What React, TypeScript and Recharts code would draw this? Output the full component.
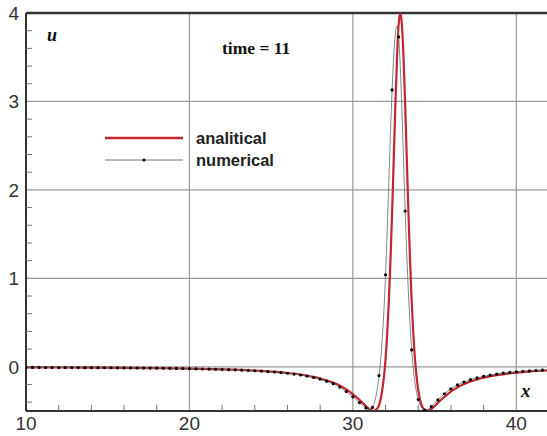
import React from 'react';
import { ComposedChart, Line, XAxis, YAxis, CartesianGrid, ReferenceLine } from 'recharts';

// ---- tick labels ----
const xMajorTicks = [10, 20, 30, 40];
const xMinorTicks = [12, 14, 16, 18, 22, 24, 26, 28, 32, 34, 36, 38, 42];
const yMajorTicks = [0, 1, 2, 3, 4];
const yMinorTicks = [-0.4, -0.2, 0.2, 0.4, 0.6, 0.8, 1.2, 1.4, 1.6, 1.8, 2.2, 2.4, 2.6, 2.8, 3.2, 3.4, 3.6, 3.8];
const yBottom = -0.5;
const xMinorTickLength = 0.07;

// ---- analytical series ----
const analyticalX = [
  10, 12, 14, 16, 18, 20, 22, 24, 25, 26, 27, 28, 29, 29.5, 30, 30.5,
  31.0, 31.25, 31.5, 31.75, 31.9, 32.0, 32.1, 32.2, 32.3, 32.4, 32.5, 32.6, 32.7, 32.8,
  32.9, 33.0, 33.1, 33.2, 33.3, 33.4, 33.5, 33.6, 33.7, 33.8, 33.9, 34.05, 34.3, 34.55,
  34.8, 35.3, 35.8, 36.3, 36.8, 37.8, 38.8, 39.8, 40.8, 42,
];
const analyticalU = [
  -0.007, -0.008, -0.010, -0.012, -0.016, -0.021, -0.029, -0.043, -0.054, -0.070, -0.094, -0.132, -0.196, -0.244, -0.308, -0.390,
  -0.477, -0.500, -0.471, -0.319, -0.116, 0.090, 0.371, 0.736, 1.197, 1.742, 2.348, 2.958, 3.495, 3.867,
  4.0, 3.867, 3.495, 2.958, 2.348, 1.742, 1.197, 0.736, 0.371, 0.090, -0.116, -0.319, -0.471, -0.500,
  -0.477, -0.390, -0.308, -0.244, -0.196, -0.132, -0.094, -0.070, -0.054, -0.041,
];

// ---- numerical series ----
const numericalX = [
  10.0, 10.4, 10.8, 11.2, 11.6, 12.0, 12.4, 12.8, 13.2, 13.6, 14.0, 14.4, 14.8, 15.2, 15.6, 16.0,
  16.4, 16.8, 17.2, 17.6, 18.0, 18.4, 18.8, 19.2, 19.6, 20.0, 20.4, 20.8, 21.2, 21.6, 22.0, 22.4,
  22.8, 23.2, 23.6, 24.0, 24.4, 24.8, 25.2, 25.6, 26.0, 26.4, 26.8, 27.2, 27.6, 28.0, 28.4, 28.8,
  29.2, 29.6, 30.0, 30.4, 30.8, 31.2, 31.6, 32.0, 32.4, 32.8, 33.2, 33.6, 34.0, 34.4, 34.8, 35.2,
  35.6, 36.0, 36.4, 36.8, 37.2, 37.6, 38.0, 38.4, 38.8, 39.2, 39.6, 40.0, 40.4, 40.8, 41.2, 41.6, 42.0,
];
const numericalU = [
  -0.007, -0.007, -0.007, -0.008, -0.008, -0.008, -0.009, -0.009, -0.009, -0.010, -0.010, -0.010, -0.011, -0.011, -0.012, -0.013,
  -0.013, -0.014, -0.015, -0.015, -0.016, -0.017, -0.018, -0.019, -0.020, -0.022, -0.023, -0.025, -0.026, -0.028, -0.030, -0.033,
  -0.035, -0.038, -0.041, -0.045, -0.049, -0.054, -0.059, -0.066, -0.073, -0.082, -0.093, -0.105, -0.121, -0.140, -0.163, -0.191,
  -0.230, -0.280, -0.340, -0.405, -0.465, -0.460, -0.100, 1.040, 3.130, 3.730, 1.760, 0.190, -0.370, -0.490, -0.450, -0.375,
  -0.305, -0.250, -0.205, -0.172, -0.146, -0.125, -0.108, -0.094, -0.082, -0.072, -0.064, -0.057, -0.051, -0.046, -0.042, -0.038, -0.035,
];

const analyticalData = analyticalX.map((x, i) => ({ x, u: analyticalU[i] }));
const numericalData = numericalX.map((x, i) => ({ x, u: numericalU[i] }));

const RED = '#c1272d';
const sans = '"Liberation Sans", Arial, sans-serif';
const serif = '"Liberation Serif", "Times New Roman", serif';

const NoLabel = () => <g />;

export default function App() {
  return (
    <div style={{ position: 'absolute', left: 0, top: 0, width: 547, height: 436, overflow: 'hidden', background: '#fff' }}>
      <ComposedChart width={552} height={436} margin={{ top: 13, right: 3, bottom: 0, left: 0 }}>
        <CartesianGrid xAxisId="main" yAxisId="main" stroke="#9a9a9a" strokeWidth={1.2} />
        <XAxis
          xAxisId="main" type="number" dataKey="x" domain={[10, 42]} ticks={xMajorTicks} interval={0}
          allowDataOverflow height={25} tickLine={false} tickSize={4} tickMargin={2}
          axisLine={{ stroke: '#333', strokeWidth: 2 }}
          tick={{ fill: '#333', fontSize: 19, fontFamily: sans }}
        />
        <YAxis
          yAxisId="main" type="number" domain={[-0.5, 4]} ticks={yMajorTicks} interval={0}
          allowDataOverflow width={26} tickLine={false} tickSize={5} tickMargin={2}
          axisLine={{ stroke: '#333', strokeWidth: 2 }}
          tick={{ fill: '#333', fontSize: 19, fontFamily: sans }}
        />
        <YAxis
          yAxisId="minor" type="number" domain={[-0.5, 4]} ticks={yMinorTicks} interval={0}
          allowDataOverflow mirror width={10} axisLine={false} tick={NoLabel} tickSize={6}
          tickLine={{ stroke: '#777', strokeWidth: 1 }}
        />
        {xMinorTicks.map((v) => (
          <ReferenceLine
            key={v} xAxisId="main" yAxisId="main" stroke="#777" strokeWidth={1}
            segment={[{ x: v, y: yBottom }, { x: v, y: yBottom + xMinorTickLength }]}
          />
        ))}
        <ReferenceLine xAxisId="main" yAxisId="main" y={4} stroke="#333" strokeWidth={2.5} />
        <Line
          xAxisId="main" yAxisId="main" data={analyticalData} dataKey="u" type="monotoneX"
          stroke={RED} strokeWidth={2.2} dot={false} isAnimationActive={false}
        />
        <Line
          xAxisId="main" yAxisId="main" data={numericalData} dataKey="u" type="natural"
          stroke="#666" strokeWidth={0.8} dot={{ r: 1.6, fill: '#000', stroke: 'none' }}
          isAnimationActive={false}
        />
      </ComposedChart>
      <svg width={547} height={436} style={{ position: 'absolute', left: 0, top: 0, pointerEvents: 'none' }}>
        <text x={47} y={41} fontFamily={serif} fontWeight="bold" fontStyle="italic" fontSize={18} fill="#111">u</text>
        <text x={222} y={54} fontFamily={serif} fontWeight="bold" fontSize={17.5} fill="#111">time = 11</text>
        <text x={521} y={397} fontFamily={serif} fontWeight="bold" fontStyle="italic" fontSize={19} fill="#111">x</text>
        <line x1={105} y1={138} x2={183} y2={138} stroke={RED} strokeWidth={2.5} />
        <text x={196} y={143.5} fontFamily={sans} fontWeight="bold" fontSize={16.5} fill="#222">analitical</text>
        <line x1={105} y1={160} x2={183} y2={160} stroke="#555" strokeWidth={0.8} />
        <circle cx={144} cy={160} r={1.6} fill="#000" />
        <text x={196} y={165.5} fontFamily={sans} fontWeight="bold" fontSize={16.5} fill="#222">numerical</text>
      </svg>
    </div>
  );
}
